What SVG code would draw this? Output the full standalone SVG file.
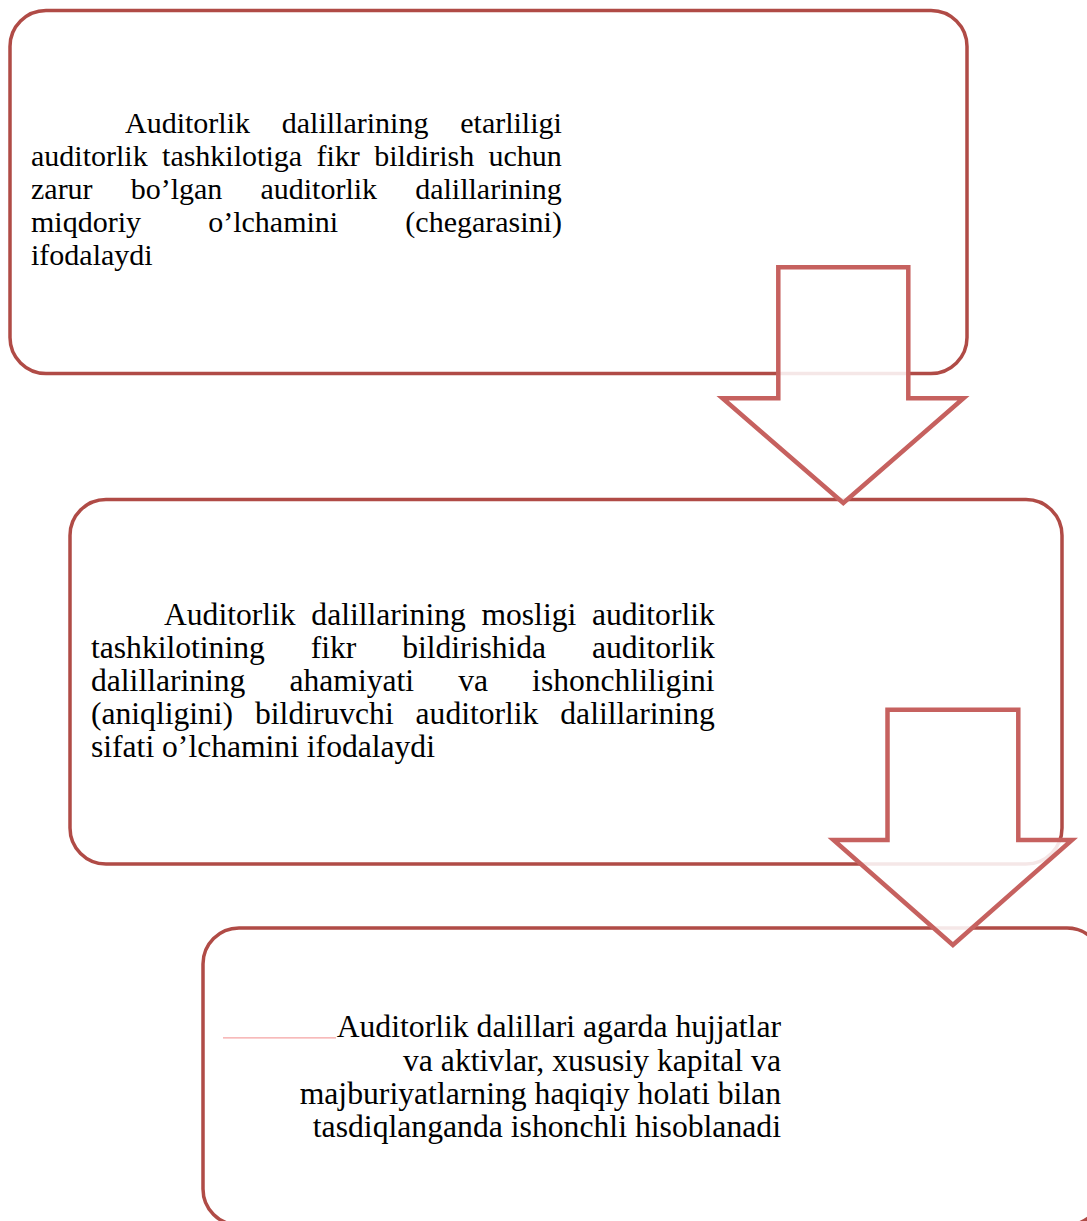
<svg xmlns="http://www.w3.org/2000/svg" width="1087" height="1221" viewBox="0 0 1087 1221">
<style>
.box{fill:#FFFFFF;stroke:#B04B46;stroke-width:3.5}
.arrow{fill:#FFFFFF;fill-opacity:0.87;stroke:#C6615F;stroke-width:4.5;stroke-linejoin:miter}
.t{font-family:"Liberation Serif","Times New Roman",serif;fill:#000000}
.t1{font-size:30px}
.t2{font-size:31.6px}
.t3{font-size:31.7px}
</style>
<rect width="1087" height="1221" fill="#FFFFFF"/>
<g id="node1">
<rect class="box" x="10" y="10.5" width="957" height="363" rx="36" ry="36"/>
<text class="t t1" x="125" y="133" word-spacing="24.3">Auditorlik dalillarining etarliligi</text>
<text class="t t1" x="31" y="166" word-spacing="6.9">auditorlik tashkilotiga fikr bildirish uchun</text>
<text class="t t1" x="31" y="199" word-spacing="30.6">zarur bo’lgan auditorlik dalillarining</text>
<text class="t t1" x="31" y="232" word-spacing="59.7">miqdoriy o’lchamini (chegarasini)</text>
<text class="t t1" x="31" y="265">ifodalaydi</text>
</g>
<g id="node2">
<rect class="box" x="70" y="499.5" width="992" height="364.5" rx="36" ry="36"/>
<text class="t t2" x="164" y="625" word-spacing="7.8">Auditorlik dalillarining mosligi auditorlik</text>
<text class="t t2" x="91" y="658" word-spacing="38">tashkilotining fikr bildirishida auditorlik</text>
<text class="t t2" x="91" y="691" word-spacing="36.2">dalillarining ahamiyati va ishonchliligini</text>
<text class="t t2" x="91" y="724" word-spacing="14">(aniqligini) bildiruvchi auditorlik dalillarining</text>
<text class="t t2" x="91" y="757">sifati o’lchamini ifodalaydi</text>
</g>
<g id="node3">
<rect class="box" x="203" y="928" width="900" height="297" rx="36" ry="36"/>
<line x1="223" y1="1037.8" x2="336" y2="1037.8" stroke="#F5A3A3" stroke-width="1.2"/>
<text class="t t3" x="781" y="1037" text-anchor="end">Auditorlik dalillari agarda hujjatlar</text>
<text class="t t3" x="781" y="1070.5" text-anchor="end">va aktivlar, xususiy kapital va</text>
<text class="t t3" x="781" y="1104" text-anchor="end">majburiyatlarning haqiqiy holati bilan</text>
<text class="t t3" x="781" y="1137" text-anchor="end">tasdiqlanganda ishonchli hisoblanadi</text>
</g>
<g id="connectors">
<polygon id="arrow1" class="arrow" points="778.3,267.3 908.3,267.3 908.3,398.3 963.5,398.3 843.3,503 722.5,398.3 778.3,398.3"/>
<polygon id="arrow2" class="arrow" points="887.5,709.7 1018.3,709.7 1018.3,840 1072,840 952.9,945 833.5,840 887.5,840"/>
</g>
</svg>
